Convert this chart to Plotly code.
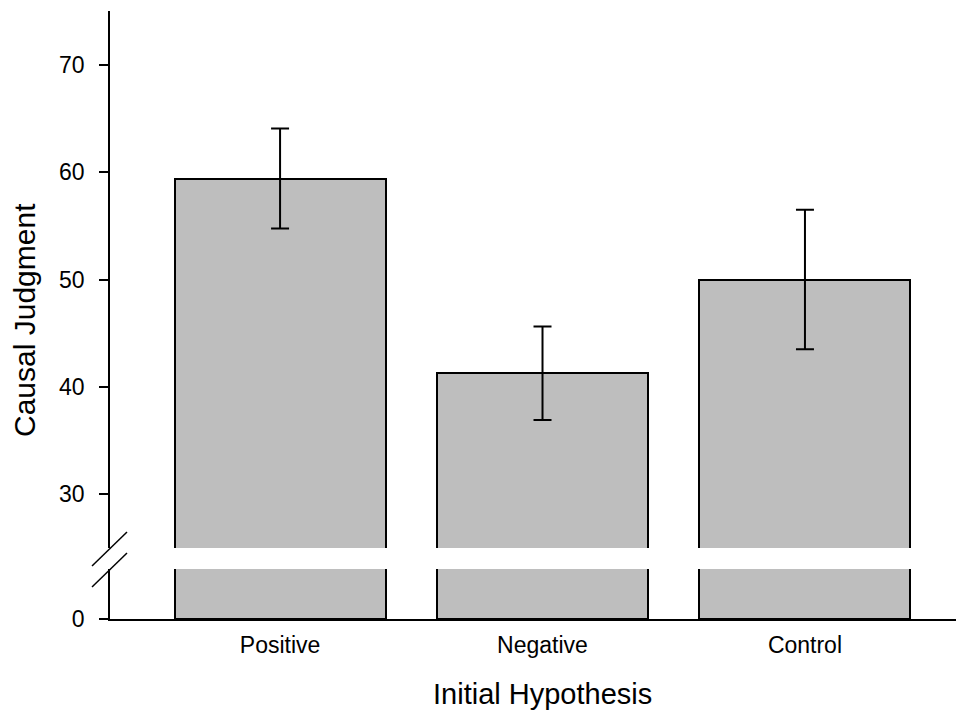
import plotly.graph_objects as go

categories = ["Positive", "Negative", "Control"]
means = [59.4, 41.27, 50.0]
errors = [4.65, 4.36, 6.5]
upper_ticks = [30, 40, 50, 60, 70]
lower_ticks = [0]

x_pos = list(range(len(categories)))
FONT = "Liberation Sans, Arial, Helvetica, sans-serif"
BAR_FILL = "#bebebe"

# page body has an 8px margin; compensate so the plot lands where the reference has it
W, H = 956, 707
ml, mr, mt, mb = 102, 0, 3, 96
plot_h = H - mt - mb  # 608
upper_bottom_px = 540   # 548 in window coords
lower_top_px = 561      # 569 in window coords
upper_dom = [(H - mb - upper_bottom_px) / plot_h, 1.0]
lower_dom = [0.0, (H - mb - lower_top_px) / plot_h]

fig = go.Figure()
fig.add_trace(go.Bar(
    x=x_pos, y=means, width=0.804,
    marker=dict(color=BAR_FILL, line=dict(color="black", width=2)),
    error_y=dict(type="data", array=errors, visible=True, color="black",
                 thickness=2, width=9),
    xaxis="x", yaxis="y", showlegend=False, hoverinfo="skip",
))
fig.add_trace(go.Bar(
    x=x_pos, y=means, width=0.804,
    marker=dict(color=BAR_FILL, line=dict(color="black", width=2)),
    xaxis="x", yaxis="y2", showlegend=False, hoverinfo="skip",
))

axis_common = dict(showgrid=False, zeroline=False, showline=True,
                   linecolor="black", linewidth=1.8, ticks="outside",
                   ticklen=9, tickwidth=1.8, tickcolor="black",
                   tickfont=dict(family=FONT, size=23, color="black"),
                   ticklabelstandoff=10)

fig.update_layout(
    width=W, height=H,
    margin=dict(l=ml, r=mr, t=mt, b=mb),
    paper_bgcolor="white", plot_bgcolor="white",
    bargap=0,
    xaxis=dict(range=[-0.648, 2.606], anchor="y2", tickvals=x_pos,
               ticktext=categories, showgrid=False, zeroline=False,
               showline=True, linecolor="black", linewidth=1.8,
               ticks="", ticklabelstandoff=4,
               tickfont=dict(family=FONT, size=23, color="black")),
    yaxis=dict(range=[25, 75], domain=upper_dom, anchor="x",
               tickvals=upper_ticks, **axis_common),
    yaxis2=dict(range=[0, 4.65], domain=lower_dom, anchor="x",
                tickvals=lower_ticks, **axis_common),
)

# axis break marks (paper-referenced so they are not clipped)
for yval in (upper_dom[0], lower_dom[1]):
    fig.add_shape(type="line", xref="paper", yref="paper",
                  xsizemode="pixel", ysizemode="pixel",
                  xanchor=0, yanchor=yval,
                  x0=-18, x1=17, y0=-18, y1=16,
                  line=dict(color="black", width=1.5))

fig.add_annotation(text="Causal Judgment", xref="paper", yref="paper",
                   x=0, y=(H - mb - 312) / plot_h, xshift=-86,
                   xanchor="center", yanchor="middle", textangle=-90,
                   showarrow=False,
                   font=dict(family=FONT, size=30, color="black"))
fig.add_annotation(text="Initial Hypothesis", xref="x", yref="paper",
                   x=1, y=0, yshift=-75, xanchor="center", yanchor="middle",
                   showarrow=False,
                   font=dict(family=FONT, size=29, color="black"))

fig.write_html("out.html")
